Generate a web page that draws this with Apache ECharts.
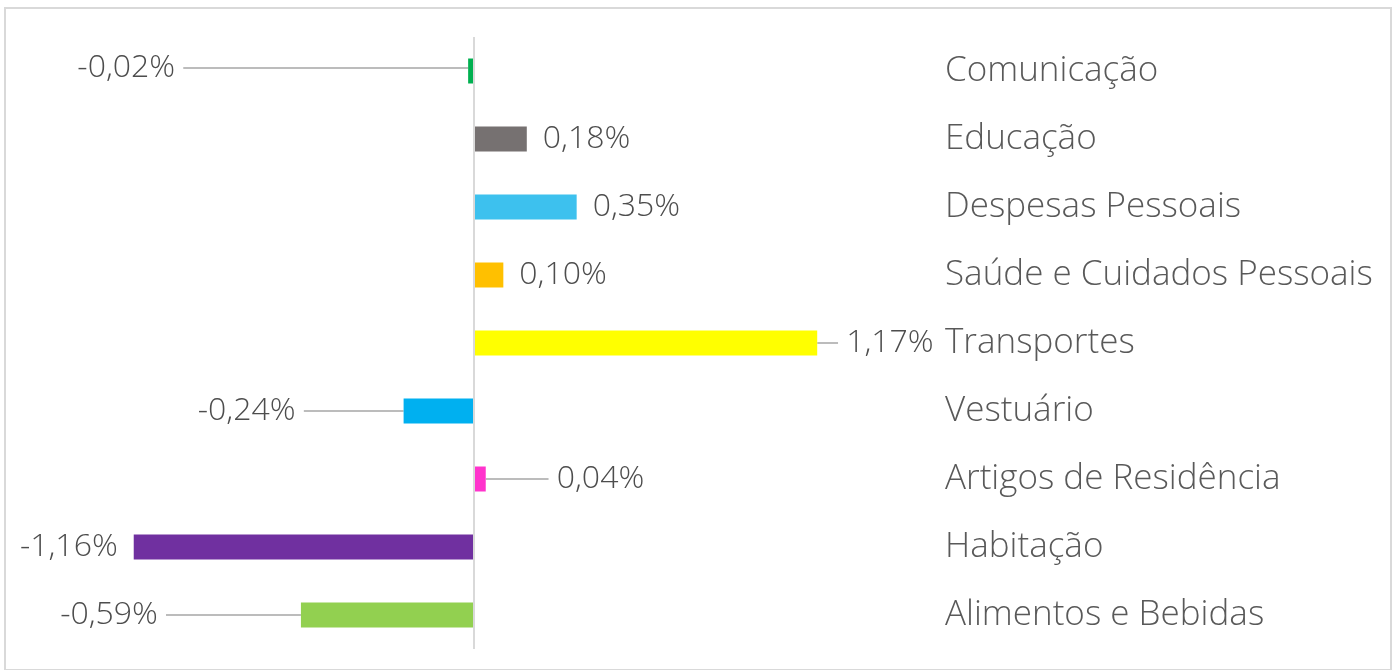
<!DOCTYPE html>
<html>
<head>
<meta charset="utf-8">
<script src="https://cdn.jsdelivr.net/npm/echarts@6/dist/echarts.min.js"></script>
<style>
  html, body { margin: 0; padding: 0; background: #fff; }
  #chart { width: 1397px; height: 670px; }
</style>
</head>
<body>
<div id="chart"></div>
<script>
// dados (variação %)
const categories = ['Comunicação', 'Educação', 'Despesas Pessoais', 'Saúde e Cuidados Pessoais',
  'Transportes', 'Vestuário', 'Artigos de Residência', 'Habitação', 'Alimentos e Bebidas'];
const values = [-0.02, 0.18, 0.35, 0.10, 1.17, -0.24, 0.04, -1.16, -0.59];
const colors = ['#00B050', '#767171', '#3DC1EE', '#FFC000', '#FFFF00', '#00B0F0', '#FF33CC', '#7030A0', '#92D050'];

const myChart = echarts.init(document.getElementById('chart'));
const font = "'Open Sans', 'Noto Sans', sans-serif";

// deslocamento dos rótulos com linha guia
const labelDx = [-269, 0, 0, 0, 5, -84, 47, 0, -119];

const option = {
  animation: false,
  graphic: [{
    type: 'rect',
    shape: { x: 5, y: 8, width: 1386, height: 662 },
    style: { fill: 'none', stroke: '#d9d9d9', lineWidth: 2 },
    silent: true
  }],
  grid: { left: 34, right: 483, top: 37, bottom: 21 },
  xAxis: {
    type: 'value',
    min: -1.5,
    max: 1.5,
    show: false
  },
  yAxis: {
    type: 'category',
    inverse: true,
    position: 'right',
    data: categories,
    axisLine: { show: false },
    axisTick: { show: false },
    splitLine: { show: false },
    axisLabel: {
      margin: 31,
      align: 'left',
      color: '#595959',
      fontSize: 35,
      fontWeight: 300,
      fontFamily: font
    }
  },
  series: [{
    type: 'bar',
    barWidth: 25,
    data: values.map((v, i) => ({
      value: v,
      itemStyle: { color: colors[i] },
      label: {
        position: v < 0 ? 'left' : 'right',
        padding: labelDx[i] !== 0 ? [0, 8] : 0,
        backgroundColor: labelDx[i] !== 0 ? '#fff' : 'transparent'
      },
      labelLine: { show: labelDx[i] !== 0 }
    })),
    label: {
      show: true,
      distance: 16,
      color: '#4d4d4d',
      fontSize: 32,
      fontWeight: 300,
      fontFamily: font,
      formatter: p => p.value.toFixed(2).replace('.', ',') + '%'
    },
    labelLayout: p => ({ dx: labelDx[p.dataIndex], dy: p.dataIndex === 0 ? -3 : 0 }),
    labelLine: {
      lineStyle: { color: '#a6a6a6', width: 1.5 }
    },
    markLine: {
      silent: true,
      symbol: 'none',
      label: { show: false },
      lineStyle: { color: '#d9d9d9', type: 'solid', width: 2 },
      data: [{ xAxis: 0 }]
    }
  }]
};
myChart.setOption(option);
</script>
</body>
</html>
